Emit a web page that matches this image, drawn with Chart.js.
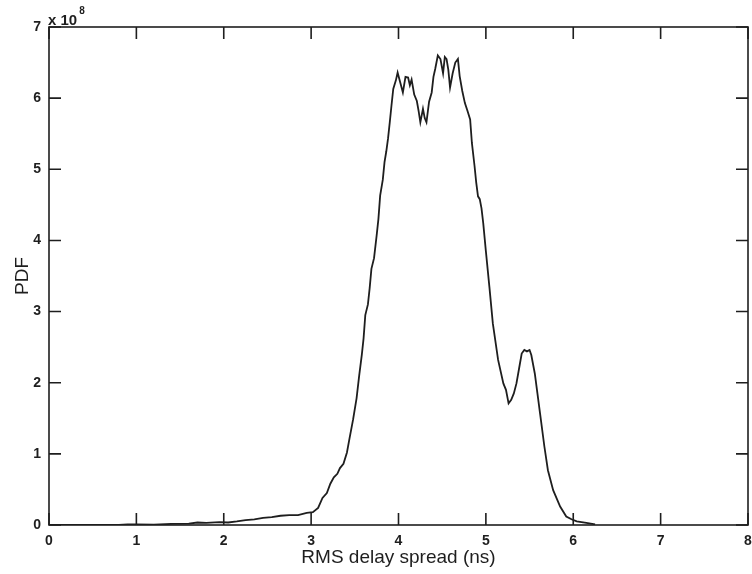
<!DOCTYPE html>
<html>
<head>
<meta charset="utf-8">
<script src="https://cdn.jsdelivr.net/npm/chart.js@4/dist/chart.umd.min.js"></script>
<style>
  html, body { margin: 0; padding: 0; background: #fff; }
  #wrap { width: 752px; height: 574px; }
</style>
</head>
<body>
<div id="wrap"><canvas id="pdfChart" width="752" height="574"></canvas></div>
<script>
// RMS delay spread (ns) and PDF (in units of 1e8)
const delaySpread = [
  0.00, 0.80, 0.90, 1.00, 1.20, 1.40, 1.60, 1.70, 1.80, 1.95, 2.05, 2.15, 2.25, 2.35, 2.45,
  2.55, 2.65, 2.75, 2.85, 2.95, 3.02, 3.08, 3.13, 3.18, 3.22, 3.26, 3.30, 3.33, 3.37, 3.41,
  3.44, 3.48, 3.52, 3.55, 3.58, 3.60, 3.62, 3.65, 3.67, 3.69, 3.72, 3.75, 3.77, 3.79, 3.82,
  3.84, 3.86, 3.88, 3.90, 3.92, 3.94, 3.97, 3.99, 4.02, 4.05, 4.08, 4.11, 4.13, 4.15, 4.18,
  4.21, 4.23, 4.25, 4.28, 4.30, 4.32, 4.35, 4.38, 4.40, 4.42, 4.45, 4.48, 4.51, 4.53, 4.55,
  4.57, 4.59, 4.62, 4.65, 4.68, 4.70, 4.73, 4.76, 4.79, 4.82, 4.84, 4.87, 4.89, 4.91, 4.93,
  4.95, 4.97, 5.00, 5.04, 5.08, 5.14, 5.20, 5.23, 5.26, 5.29, 5.32, 5.35, 5.38, 5.41, 5.44,
  5.47, 5.50, 5.52, 5.56, 5.59, 5.62, 5.67, 5.71, 5.77, 5.85, 5.92, 5.98, 6.04, 6.15, 6.25
];
const pdfValues = [
  0.000, 0.000, 0.010, 0.010, 0.005, 0.015, 0.020, 0.035, 0.030, 0.040, 0.035, 0.050, 0.070, 0.080, 0.100,
  0.110, 0.130, 0.140, 0.140, 0.170, 0.180, 0.240, 0.380, 0.450, 0.580, 0.670, 0.720, 0.800, 0.860, 1.020,
  1.220, 1.480, 1.780, 2.100, 2.390, 2.620, 2.950, 3.100, 3.330, 3.600, 3.750, 4.070, 4.300, 4.630, 4.850,
  5.100, 5.250, 5.430, 5.660, 5.900, 6.130, 6.250, 6.360, 6.220, 6.080, 6.300, 6.290, 6.180, 6.260, 6.050,
  5.960, 5.820, 5.660, 5.850, 5.720, 5.660, 5.950, 6.080, 6.300, 6.410, 6.600, 6.550, 6.350, 6.580, 6.550,
  6.400, 6.150, 6.350, 6.500, 6.550, 6.310, 6.100, 5.930, 5.820, 5.700, 5.370, 5.050, 4.810, 4.620, 4.580,
  4.450, 4.240, 3.850, 3.350, 2.830, 2.320, 1.990, 1.900, 1.710, 1.760, 1.850, 1.990, 2.200, 2.410, 2.460,
  2.440, 2.460, 2.390, 2.130, 1.850, 1.570, 1.100, 0.770, 0.490, 0.260, 0.120, 0.080, 0.050, 0.030, 0.010
];
const xTicks = [0, 1, 2, 3, 4, 5, 6, 7, 8];
const yTicks = [0, 1, 2, 3, 4, 5, 6, 7];
const exponentLabel = 'x 10';
const exponentPower = '8';

const ink = '#1e1e1e';
const fontFamily = '"Liberation Sans", Arial, sans-serif';
const points = delaySpread.map((x, i) => ({ x: x, y: pdfValues[i] }));

// box round the plot, inward ticks on all four sides, and the exponent label
const boxTicks = {
  id: 'boxTicks',
  afterDraw(chart) {
    const ctx = chart.ctx;
    const a = chart.chartArea;
    const xs = chart.scales.x;
    const ys = chart.scales.y;
    const len = 12;
    ctx.save();
    ctx.strokeStyle = ink;
    ctx.lineWidth = 1.6;
    ctx.strokeRect(a.left, a.top, a.right - a.left, a.bottom - a.top);
    ctx.beginPath();
    xTicks.forEach(v => {
      const px = xs.getPixelForValue(v);
      ctx.moveTo(px, a.bottom); ctx.lineTo(px, a.bottom - len);
      ctx.moveTo(px, a.top); ctx.lineTo(px, a.top + len);
    });
    yTicks.forEach(v => {
      const py = ys.getPixelForValue(v);
      ctx.moveTo(a.left, py); ctx.lineTo(a.left + len, py);
      ctx.moveTo(a.right, py); ctx.lineTo(a.right - len, py);
    });
    ctx.stroke();
    ctx.fillStyle = ink;
    ctx.font = 'bold 15px ' + fontFamily;
    ctx.textBaseline = 'alphabetic';
    ctx.textAlign = 'left';
    ctx.fillText(exponentLabel, a.left - 1, a.top - 2);
    const w = ctx.measureText(exponentLabel).width;
    ctx.font = 'bold 10px ' + fontFamily;
    ctx.fillText(exponentPower, a.left + w + 1, a.top - 13);
    ctx.restore();
  }
};

new Chart(document.getElementById('pdfChart'), {
  type: 'line',
  data: {
    datasets: [{
      data: points,
      borderColor: ink,
      borderWidth: 1.8,
      pointRadius: 0,
      tension: 0,
      fill: false
    }]
  },
  options: {
    responsive: false,
    animation: false,
    layout: { padding: { top: 27, right: 4, left: 0, bottom: 0 } },
    plugins: { legend: { display: false }, tooltip: { enabled: false } },
    scales: {
      x: {
        type: 'linear',
        min: 0, max: 8,
        afterFit(scale) {
          scale.height = 49;
          scale.paddingLeft = 0;
          scale.paddingRight = 0;
        },
        afterBuildTicks(scale) { scale.ticks = xTicks.map(v => ({ value: v })); },
        grid: { display: false, drawTicks: false },
        border: { display: false },
        ticks: {
          padding: 8,
          color: ink,
          maxRotation: 0,
          font: { family: fontFamily, size: 14, weight: 'bold' }
        },
        title: {
          display: true,
          text: 'RMS delay spread (ns)',
          color: ink,
          padding: { top: 0, bottom: 5 },
          font: { family: fontFamily, size: 19 }
        }
      },
      y: {
        type: 'linear',
        min: 0, max: 7,
        afterFit(scale) {
          scale.width = 49;
          scale.paddingTop = 0;
          scale.paddingBottom = 0;
        },
        afterBuildTicks(scale) { scale.ticks = yTicks.map(v => ({ value: v })); },
        grid: { display: false, drawTicks: false },
        border: { display: false },
        ticks: {
          padding: 8,
          color: ink,
          font: { family: fontFamily, size: 14, weight: 'bold' }
        },
        title: {
          display: true,
          text: 'PDF',
          color: ink,
          padding: { top: 11, bottom: 0 },
          font: { family: fontFamily, size: 19 }
        }
      }
    }
  },
  plugins: [boxTicks]
});
</script>
</body>
</html>
